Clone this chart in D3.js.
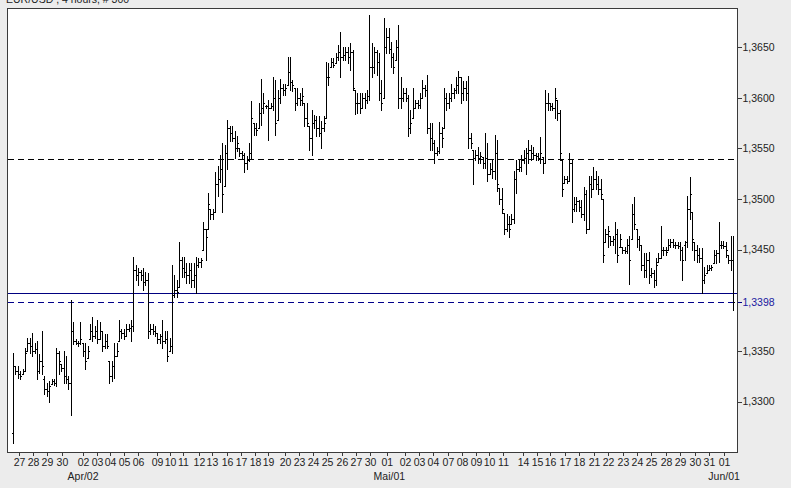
<!DOCTYPE html>
<html><head><meta charset="utf-8">
<script src="https://cdn.jsdelivr.net/npm/d3@7"></script>
<style>
html,body{margin:0;padding:0;background:#ececec;}
svg{display:block;}
text{font-family:"Liberation Sans",Arial,sans-serif;}
</style></head>
<body>
<svg id="chart" width="791" height="488"></svg>
<script>
const title = "EUR/USD , 4 hours, # 300";
const opens = [
1.3269,1.3335,1.3330,1.3327,1.3327,1.3330,1.3350,1.3358,1.3355,1.3350,
1.3352,1.3330,1.3340,1.3322,1.3312,1.3310,1.3317,1.3320,1.3318,1.3348,
1.3337,1.3333,1.3325,1.3322,1.3318,1.3370,1.3360,1.3358,1.3358,1.3358,
1.3350,1.3343,1.3362,1.3370,1.3365,1.3370,1.3362,1.3370,1.3355,1.3360,
1.3340,1.3325,1.3335,1.3345,1.3360,1.3370,1.3368,1.3365,1.3372,1.3373,
1.3375,1.3430,1.3425,1.3428,1.3425,1.3418,1.3420,1.3370,1.3372,1.3370,
1.3368,1.3362,1.3365,1.3360,1.3362,1.3350,1.3355,1.3405,1.3410,1.3413,
1.3440,1.3432,1.3428,1.3425,1.3430,1.3420,1.3425,1.3435,1.3438,1.3450,
1.3470,1.3470,1.3490,1.3485,1.3487,1.3515,1.3520,1.3530,1.3513,1.3545,
1.3570,1.3565,1.3560,1.3550,1.3550,1.3545,1.3543,1.3535,1.3538,1.3545,
1.3575,1.3570,1.3570,1.3585,1.3590,1.3592,1.3592,1.3590,1.3592,1.3600,
1.3578,1.3600,1.3610,1.3608,1.3612,1.3625,1.3615,1.3610,1.3595,1.3600,
1.3598,1.3595,1.3580,1.3572,1.3560,1.3575,1.3578,1.3570,1.3565,1.3570,
1.3580,1.3620,1.3630,1.3635,1.3634,1.3640,1.3645,1.3640,1.3642,1.3645,
1.3640,1.3645,1.3608,1.3595,1.3595,1.3590,1.3600,1.3598,1.3602,1.3630,
1.3630,1.3645,1.3635,1.3605,1.3600,1.3650,1.3660,1.3648,1.3640,1.3637,
1.3650,1.3600,1.3600,1.3605,1.3600,1.3570,1.3580,1.3590,1.3595,1.3593,
1.3600,1.3610,1.3608,1.3570,1.3560,1.3555,1.3545,1.3547,1.3565,1.3570,
1.3600,1.3595,1.3600,1.3605,1.3608,1.3612,1.3620,1.3605,1.3610,1.3605,
1.3560,1.3548,1.3540,1.3543,1.3540,1.3541,1.3535,1.3540,1.3525,1.3530,
1.3528,1.3545,1.3511,1.3500,1.3486,1.3470,1.3475,1.3475,1.3480,1.3520,
1.3530,1.3532,1.3538,1.3540,1.3545,1.3548,1.3545,1.3543,1.3542,1.3540,
1.3541,1.3535,1.3595,1.3595,1.3592,1.3590,1.3598,1.3585,1.3538,1.3516,
1.3520,1.3518,1.3535,1.3490,1.3495,1.3498,1.3492,1.3485,1.3505,1.3470,
1.3515,1.3510,1.3520,1.3515,1.3510,1.3500,1.3457,1.3465,1.3463,1.3458,
1.3460,1.3465,1.3453,1.3453,1.3450,1.3449,1.3455,1.3460,1.3485,1.3470,
1.3460,1.3455,1.3435,1.3430,1.3440,1.3425,1.3427,1.3420,1.3438,1.3442,
1.3450,1.3450,1.3450,1.3455,1.3457,1.3455,1.3455,1.3454,1.3450,1.3455,
1.3457,1.3490,1.3487,1.3457,1.3450,1.3445,1.3442,1.3420,1.3427,1.3430,
1.3432,1.3437,1.3445,1.3447,1.3455,1.3455,1.3454,1.3445,1.3440,1.3440];
const highs = [
1.3348,1.3335,1.3335,1.3330,1.3332,1.3353,1.3363,1.3363,1.3368,1.3358,
1.3360,1.3347,1.3370,1.3325,1.3318,1.3320,1.3322,1.3322,1.3353,1.3350,
1.3337,1.3350,1.3345,1.3325,1.3400,1.3378,1.3362,1.3360,1.3378,1.3358,
1.3358,1.3355,1.3377,1.3383,1.3375,1.3380,1.3378,1.3370,1.3367,1.3367,
1.3340,1.3340,1.3358,1.3358,1.3380,1.3372,1.3372,1.3377,1.3377,1.3380,
1.3443,1.3435,1.3432,1.3430,1.3432,1.3428,1.3427,1.3377,1.3377,1.3375,
1.3368,1.3367,1.3380,1.3370,1.3370,1.3363,1.3435,1.3425,1.3420,1.3457,
1.3443,1.3443,1.3437,1.3437,1.3437,1.3437,1.3443,1.3442,1.3442,1.3477,
1.3470,1.3506,1.3490,1.3490,1.3527,1.3533,1.3543,1.3555,1.3553,1.3578,
1.3572,1.3572,1.3567,1.3562,1.3550,1.3547,1.3545,1.3542,1.3555,1.3597,
1.3575,1.3575,1.3595,1.3618,1.3605,1.3593,1.3598,1.3595,1.3620,1.3617,
1.3608,1.3618,1.3613,1.3613,1.3640,1.3640,1.3617,1.3610,1.3610,1.3605,
1.3610,1.3595,1.3595,1.3572,1.3588,1.3583,1.3582,1.3582,1.3577,1.3582,
1.3635,1.3634,1.3639,1.3639,1.3644,1.3652,1.3665,1.3650,1.3650,1.3650,
1.3654,1.3647,1.3608,1.3605,1.3605,1.3605,1.3605,1.3608,1.3682,1.3654,
1.3650,1.3647,1.3644,1.3617,1.3679,1.3669,1.3669,1.3655,1.3644,1.3657,
1.3672,1.3620,1.3610,1.3610,1.3603,1.3588,1.3610,1.3598,1.3598,1.3605,
1.3617,1.3612,1.3622,1.3575,1.3575,1.3558,1.3551,1.3576,1.3571,1.3610,
1.3605,1.3605,1.3613,1.3610,1.3620,1.3626,1.3620,1.3616,1.3616,1.3621,
1.3565,1.3548,1.3548,1.3551,1.3546,1.3541,1.3565,1.3555,1.3535,1.3538,
1.3563,1.3558,1.3511,1.3511,1.3486,1.3485,1.3483,1.3485,1.3528,1.3538,
1.3538,1.3543,1.3548,1.3550,1.3558,1.3553,1.3551,1.3545,1.3545,1.3561,
1.3541,1.3608,1.3605,1.3595,1.3595,1.3610,1.3598,1.3588,1.3538,1.3523,
1.3523,1.3545,1.3538,1.3502,1.3502,1.3499,1.3499,1.3512,1.3509,1.3523,
1.3523,1.3532,1.3528,1.3523,1.3520,1.3500,1.3470,1.3473,1.3463,1.3463,
1.3477,1.3470,1.3465,1.3453,1.3453,1.3460,1.3463,1.3495,1.3502,1.3470,
1.3463,1.3455,1.3447,1.3447,1.3448,1.3432,1.3430,1.3442,1.3447,1.3473,
1.3453,1.3453,1.3460,1.3460,1.3460,1.3457,1.3457,1.3457,1.3453,1.3458,
1.3503,1.3522,1.3487,1.3457,1.3455,1.3452,1.3452,1.3433,1.3435,1.3435,
1.3435,1.3450,1.3450,1.3477,1.3458,1.3458,1.3457,1.3445,1.3463,1.3463];
const lows = [
1.3259,1.3327,1.3323,1.3322,1.3327,1.3330,1.3350,1.3348,1.3345,1.3348,
1.3322,1.3328,1.3327,1.3307,1.3305,1.3300,1.3317,1.3316,1.3315,1.3327,
1.3330,1.3318,1.3318,1.3312,1.3287,1.3357,1.3357,1.3355,1.3357,1.3345,
1.3332,1.3343,1.3362,1.3360,1.3363,1.3358,1.3362,1.3350,1.3353,1.3353,
1.3318,1.3320,1.3323,1.3345,1.3360,1.3363,1.3362,1.3365,1.3370,1.3360,
1.3370,1.3420,1.3415,1.3420,1.3410,1.3415,1.3363,1.3367,1.3367,1.3365,
1.3358,1.3358,1.3353,1.3358,1.3340,1.3350,1.3348,1.3403,1.3403,1.3413,
1.3423,1.3423,1.3417,1.3417,1.3413,1.3413,1.3407,1.3433,1.3433,1.3450,
1.3440,1.3470,1.3480,1.3480,1.3487,1.3503,1.3517,1.3487,1.3513,1.3530,
1.3557,1.3557,1.3540,1.3547,1.3542,1.3540,1.3527,1.3530,1.3537,1.3540,
1.3563,1.3563,1.3570,1.3573,1.3585,1.3590,1.3558,1.3590,1.3588,1.3563,
1.3578,1.3595,1.3603,1.3603,1.3612,1.3608,1.3607,1.3588,1.3593,1.3593,
1.3593,1.3572,1.3572,1.3548,1.3543,1.3570,1.3562,1.3562,1.3550,1.3567,
1.3580,1.3612,1.3630,1.3630,1.3634,1.3637,1.3620,1.3637,1.3637,1.3634,
1.3627,1.3608,1.3584,1.3585,1.3585,1.3590,1.3590,1.3595,1.3598,1.3620,
1.3624,1.3622,1.3598,1.3588,1.3600,1.3644,1.3644,1.3630,1.3624,1.3637,
1.3590,1.3590,1.3597,1.3597,1.3562,1.3565,1.3580,1.3590,1.3590,1.3590,
1.3600,1.3602,1.3565,1.3548,1.3548,1.3535,1.3543,1.3545,1.3551,1.3570,
1.3588,1.3590,1.3597,1.3600,1.3605,1.3605,1.3595,1.3598,1.3598,1.3550,
1.3550,1.3515,1.3538,1.3535,1.3535,1.3531,1.3531,1.3518,1.3525,1.3521,
1.3520,1.3508,1.3495,1.3486,1.3465,1.3468,1.3462,1.3475,1.3476,1.3506,
1.3528,1.3528,1.3535,1.3525,1.3535,1.3538,1.3540,1.3538,1.3538,1.3535,
1.3526,1.3535,1.3588,1.3588,1.3588,1.3580,1.3578,1.3538,1.3503,1.3516,
1.3516,1.3518,1.3477,1.3488,1.3488,1.3488,1.3482,1.3479,1.3466,1.3470,
1.3502,1.3510,1.3510,1.3505,1.3500,1.3438,1.3457,1.3453,1.3455,1.3455,
1.3447,1.3438,1.3453,1.3447,1.3447,1.3447,1.3416,1.3460,1.3470,1.3453,
1.3450,1.3430,1.3423,1.3423,1.3417,1.3423,1.3413,1.3415,1.3438,1.3442,
1.3445,1.3445,1.3450,1.3453,1.3453,1.3452,1.3452,1.3440,1.3420,1.3440,
1.3453,1.3480,1.3450,1.3440,1.3438,1.3438,1.3407,1.3417,1.3427,1.3430,
1.3430,1.3437,1.3437,1.3438,1.3452,1.3452,1.3443,1.3437,1.3430,1.3390];
const closes = [
1.3335,1.3330,1.3327,1.3325,1.3330,1.3348,1.3358,1.3355,1.3350,1.3352,
1.3330,1.3340,1.3335,1.3312,1.3310,1.3315,1.3320,1.3318,1.3348,1.3340,
1.3333,1.3325,1.3322,1.3318,1.3370,1.3360,1.3358,1.3358,1.3362,1.3350,
1.3340,1.3350,1.3370,1.3365,1.3370,1.3362,1.3370,1.3355,1.3360,1.3355,
1.3325,1.3335,1.3345,1.3350,1.3370,1.3368,1.3365,1.3372,1.3373,1.3375,
1.3430,1.3425,1.3428,1.3425,1.3418,1.3420,1.3370,1.3372,1.3370,1.3368,
1.3362,1.3365,1.3360,1.3362,1.3345,1.3355,1.3405,1.3410,1.3408,1.3440,
1.3432,1.3428,1.3425,1.3430,1.3420,1.3425,1.3435,1.3438,1.3440,1.3470,
1.3462,1.3495,1.3485,1.3487,1.3515,1.3520,1.3530,1.3505,1.3545,1.3570,
1.3565,1.3560,1.3550,1.3555,1.3545,1.3543,1.3535,1.3538,1.3545,1.3580,
1.3570,1.3568,1.3585,1.3590,1.3595,1.3592,1.3590,1.3592,1.3600,1.3575,
1.3600,1.3610,1.3608,1.3610,1.3625,1.3615,1.3612,1.3595,1.3600,1.3598,
1.3602,1.3580,1.3575,1.3560,1.3575,1.3578,1.3570,1.3565,1.3570,1.3575,
1.3620,1.3620,1.3635,1.3632,1.3640,1.3645,1.3640,1.3642,1.3645,1.3640,
1.3645,1.3610,1.3595,1.3595,1.3590,1.3600,1.3598,1.3602,1.3630,1.3630,
1.3645,1.3635,1.3605,1.3595,1.3650,1.3660,1.3648,1.3640,1.3630,1.3650,
1.3600,1.3600,1.3605,1.3600,1.3570,1.3575,1.3590,1.3595,1.3593,1.3600,
1.3610,1.3608,1.3570,1.3560,1.3555,1.3545,1.3547,1.3565,1.3560,1.3600,
1.3595,1.3600,1.3605,1.3608,1.3612,1.3620,1.3605,1.3610,1.3605,1.3560,
1.3555,1.3540,1.3543,1.3540,1.3542,1.3535,1.3540,1.3525,1.3530,1.3528,
1.3545,1.3515,1.3500,1.3490,1.3470,1.3475,1.3470,1.3480,1.3520,1.3530,
1.3532,1.3538,1.3540,1.3545,1.3548,1.3545,1.3543,1.3542,1.3540,1.3545,
1.3535,1.3595,1.3595,1.3592,1.3590,1.3600,1.3585,1.3545,1.3510,1.3520,
1.3518,1.3535,1.3490,1.3495,1.3498,1.3492,1.3485,1.3505,1.3470,1.3515,
1.3510,1.3520,1.3515,1.3510,1.3505,1.3445,1.3465,1.3468,1.3458,1.3460,
1.3465,1.3445,1.3460,1.3450,1.3449,1.3455,1.3440,1.3485,1.3475,1.3460,
1.3455,1.3435,1.3430,1.3440,1.3425,1.3427,1.3420,1.3435,1.3442,1.3450,
1.3450,1.3448,1.3455,1.3457,1.3455,1.3455,1.3454,1.3450,1.3440,1.3457,
1.3490,1.3505,1.3460,1.3450,1.3445,1.3442,1.3420,1.3425,1.3430,1.3432,
1.3433,1.3445,1.3447,1.3455,1.3455,1.3454,1.3450,1.3440,1.3440,1.3398];

const dayLabels = ["27","28","29","30","02","03","04","05","06","09","10","11","12","13","16","17","18","19","20","23","24","25","26","27","30","01","02","03","04","07","08","09","10","11","14","15","16","17","18","21","22","23","24","25","28","29","30","31","01"];
const dayIdx = [2.5,8.3,14.1,20.3,29.1,34.9,40.3,46.1,51.9,59.8,65.2,70.6,77.2,82.6,88.9,94.7,100.5,105.9,113,118.8,124.6,130.4,136.6,142.4,148.3,155.2,162.8,168.6,174.4,180.6,186.5,192.3,197.7,203.5,211.8,217.6,223,229.2,235,241.3,247.1,253.3,259.1,265,271.2,277,283.2,289,295.3];
const monthLabels = ["Apr/02","Mai/01","Jun/01"];
const monthIdx = [29.1,156.3,295.3];
const yTicks = [1.3300,1.3350,1.3450,1.3500,1.3550,1.3600,1.3650];
const levelLines = [1.3539, 1.3407];
const bidPrice = 1.3398;

const svg = d3.select("#chart");
const L = 7.5, R = 737.5, T = 8.5, B = 452.5;

const x = d3.scaleLinear().domain([0, 299]).range([13, 733]);
const y = d3.scaleLinear().domain([1.3300, 1.3650]).range([401.5, 47]);

// title (clipped at top)
svg.append("text").attr("x", 6).attr("y", 3).attr("font-size", 10.5).attr("fill", "#222").text(title);

// plot area
svg.append("rect").attr("x", L).attr("y", T).attr("width", R - L).attr("height", B - T)
  .attr("fill", "#fff").attr("stroke", "none");

const g = svg.append("g").attr("shape-rendering", "crispEdges");

// level lines
g.append("line").attr("x1", L).attr("x2", R)
  .attr("y1", Math.round(y(levelLines[0])) + 0.5).attr("y2", Math.round(y(levelLines[0])) + 0.5)
  .attr("stroke", "#000").attr("stroke-dasharray", "6,4");
g.append("line").attr("x1", L).attr("x2", R)
  .attr("y1", Math.round(y(levelLines[1])) + 0.5).attr("y2", Math.round(y(levelLines[1])) + 0.5)
  .attr("stroke", "#000080");
g.append("line").attr("x1", L).attr("x2", R)
  .attr("y1", Math.round(y(bidPrice)) + 0.5).attr("y2", Math.round(y(bidPrice)) + 0.5)
  .attr("stroke", "#00008b").attr("stroke-dasharray", "6,4");

// bars
const idx = d3.range(closes.length);
const py = v => Math.round(y(v)) + 0.5;
const bars = g.append("g").attr("stroke", "#000").attr("stroke-width", 1);
idx.forEach(i => {
  const c = Math.round(x(i));
  const xv = c + 0.5;
  bars.append("line").attr("x1", xv).attr("x2", xv)
    .attr("y1", Math.round(y(highs[i]))).attr("y2", Math.round(y(lows[i])) + 1);
  bars.append("line").attr("x1", c - 1).attr("x2", c + 1).attr("y1", py(opens[i])).attr("y2", py(opens[i]));
  bars.append("line").attr("x1", c).attr("x2", c + 2).attr("y1", py(closes[i])).attr("y2", py(closes[i]));
});

// border
svg.append("rect").attr("x", L).attr("y", T).attr("width", R - L).attr("height", B - T)
  .attr("fill", "none").attr("stroke", "#3a3a3a").attr("shape-rendering", "crispEdges");

// right axis
const ya = svg.append("g").attr("transform", `translate(${R},0)`)
  .call(d3.axisRight(y).tickValues(yTicks).tickSize(4).tickPadding(1)
    .tickFormat(d => d.toFixed(4).replace(".", ",")));
ya.select(".domain").remove();
ya.selectAll("line").attr("stroke", "#3a3a3a").attr("shape-rendering", "crispEdges");
ya.selectAll("text").attr("font-size", 10.5).attr("fill", "#222").attr("font-family", "Liberation Sans, Arial, sans-serif");

// bid label
const bidG = svg.append("g").attr("transform", `translate(${R},0)`);
bidG.append("line").attr("x1", 0).attr("x2", 4).attr("y1", py(bidPrice)).attr("y2", py(bidPrice))
  .attr("stroke", "#00008b").attr("shape-rendering", "crispEdges");
bidG.append("text").attr("x", 5).attr("y", y(bidPrice)).attr("dy", "0.35em")
  .attr("font-size", 10.5).attr("fill", "#1a1aa0").text(bidPrice.toFixed(4).replace(".", ","));

// bottom axis
const xa = svg.append("g").attr("transform", `translate(0,${B})`)
  .call(d3.axisBottom(x).tickValues(dayIdx).tickSize(3).tickPadding(3)
    .tickFormat((d, i) => dayLabels[i]));
xa.select(".domain").remove();
xa.selectAll("line").attr("stroke", "#3a3a3a").attr("shape-rendering", "crispEdges");
xa.selectAll("text").attr("font-size", 10.5).attr("fill", "#222").attr("font-family", "Liberation Sans, Arial, sans-serif");

// month labels
svg.append("g").selectAll("text").data(monthIdx).join("text")
  .attr("x", d => x(d)).attr("y", 480).attr("text-anchor", "middle")
  .attr("font-size", 10.5).attr("fill", "#222").text((d, i) => monthLabels[i]);
</script>
</body></html>
